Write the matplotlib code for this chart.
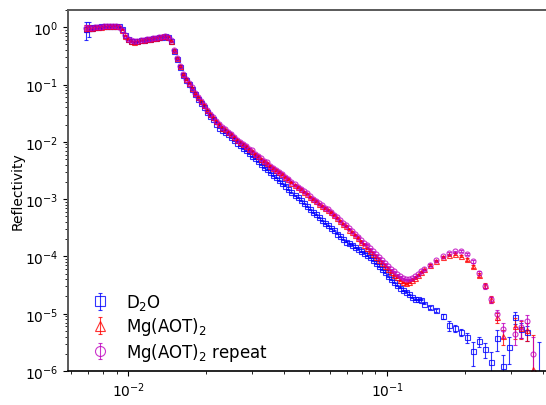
import numpy as np
import matplotlib
matplotlib.use("Agg")
import matplotlib.pyplot as plt

# Q grid shared by the three measurements (1/Angstrom)
q = [0.00686, 0.00705, 0.00724, 0.00744, 0.00764, 0.00785, 0.00807, 0.00829, 0.00851, 0.00874,
     0.00898, 0.00923, 0.00948, 0.00974, 0.01000, 0.01027, 0.01055, 0.01084, 0.01114, 0.01144,
     0.01175, 0.01207, 0.01240, 0.01274, 0.01308, 0.01344, 0.01381, 0.01418, 0.01457, 0.01497,
     0.01537, 0.01579, 0.01622, 0.01666, 0.01712, 0.01759, 0.01806, 0.01856, 0.01906, 0.01958,
     0.02011, 0.02066, 0.02123, 0.02180, 0.02240, 0.02301, 0.02363, 0.02428, 0.02494, 0.02562,
     0.02632, 0.02703, 0.02777, 0.02853, 0.02930, 0.03010, 0.03092, 0.03177, 0.03263, 0.03352,
     0.03443, 0.03537, 0.03633, 0.03732, 0.03834, 0.03939, 0.04046, 0.04156, 0.04269, 0.04386,
     0.04505, 0.04628, 0.04754, 0.04883, 0.05016, 0.05153, 0.05294, 0.05438, 0.05586, 0.05738,
     0.05894, 0.06055, 0.06220, 0.06389, 0.06563, 0.06742, 0.06926, 0.07115, 0.07308, 0.07507,
     0.07712, 0.07922, 0.08138, 0.08360, 0.08587, 0.08821, 0.09061, 0.09308, 0.09562, 0.09822,
     0.1009, 0.1037, 0.1065, 0.1094, 0.1124, 0.1154, 0.1186, 0.1218, 0.1251, 0.1285,
     0.1320, 0.1356, 0.1393,
     0.1470, 0.1551, 0.1637, 0.1727, 0.1823, 0.1923, 0.2029, 0.2141, 0.2260, 0.2385,
     0.2516, 0.2655, 0.2802, 0.2956, 0.3120, 0.3292, 0.3474, 0.3665, 0.3868]

# log10 of reflectivity
logr_d2o = [-0.03, -0.02, -0.01, 0.00, 0.01, 0.02, 0.02, 0.02, 0.03, 0.03,
            0.03, 0.02, -0.03, -0.14, -0.21, -0.24, -0.24, -0.24, -0.23, -0.22,
            -0.21, -0.20, -0.19, -0.18, -0.17, -0.17, -0.16, -0.17, -0.24, -0.42,
            -0.56, -0.70, -0.84, -0.92, -0.99, -1.08, -1.17, -1.26, -1.33, -1.40,
            -1.48, -1.55, -1.61, -1.68, -1.75, -1.80, -1.83, -1.87, -1.92, -1.97,
            -2.02, -2.06, -2.11, -2.15, -2.20, -2.25, -2.29, -2.34, -2.39, -2.44,
            -2.48, -2.53, -2.58, -2.62, -2.67, -2.72, -2.77, -2.83, -2.88, -2.93,
            -2.97, -3.02, -3.07, -3.12, -3.18, -3.23, -3.26, -3.32, -3.37, -3.42,
            -3.46, -3.51, -3.54, -3.60, -3.65, -3.70, -3.74, -3.77, -3.80, -3.84,
            -3.87, -3.91, -3.94, -3.98, -4.01, -4.07, -4.12, -4.17, -4.22, -4.28,
            -4.35, -4.40, -4.45, -4.50, -4.55, -4.59, -4.62, -4.66, -4.71, -4.75,
            -4.75, -4.76, -4.83,
            -4.89, -4.94, -5.04, -5.20, -5.25, -5.32, -5.41, -5.65, -5.48, -5.62,
            -5.85, -5.43, -5.92, -5.58, -5.06, -5.27, -5.32, np.nan, -6.32]

logr_mg = [-0.02, -0.01, -0.01, 0.00, 0.01, 0.01, 0.02, 0.02, 0.02, 0.03,
           0.03, 0.02, -0.04, -0.15, -0.21, -0.24, -0.25, -0.24, -0.23, -0.22,
           -0.21, -0.20, -0.19, -0.18, -0.17, -0.16, -0.16, -0.17, -0.24, -0.40,
           -0.54, -0.68, -0.82, -0.91, -0.98, -1.06, -1.15, -1.22, -1.29, -1.36,
           -1.45, -1.52, -1.57, -1.64, -1.69, -1.75, -1.78, -1.83, -1.87, -1.92,
           -1.97, -2.01, -2.04, -2.08, -2.13, -2.16, -2.22, -2.25, -2.30, -2.34,
           -2.37, -2.43, -2.46, -2.50, -2.53, -2.57, -2.62, -2.65, -2.71, -2.76,
           -2.79, -2.83, -2.88, -2.91, -2.97, -3.00, -3.04, -3.09, -3.12, -3.16,
           -3.19, -3.23, -3.28, -3.33, -3.39, -3.44, -3.47, -3.53, -3.58, -3.63,
           -3.68, -3.75, -3.80, -3.86, -3.91, -3.96, -4.01, -4.07, -4.12, -4.17,
           -4.22, -4.28, -4.33, -4.36, -4.42, -4.45, -4.47, -4.45, -4.42, -4.38,
           -4.33, -4.28, -4.22,
           -4.15, -4.08, -4.01, -3.98, -3.96, -4.00, -4.05, -4.17, -4.33, -4.50,
           -4.75, -5.06, -5.39, np.nan, -5.22, -5.25, -5.29, -5.97, np.nan]

logr_mg_rep = [-0.02, -0.02, -0.01, 0.00, 0.00, 0.01, 0.02, 0.02, 0.03, 0.03,
               0.03, 0.01, -0.04, -0.14, -0.21, -0.23, -0.24, -0.24, -0.23, -0.22,
               -0.21, -0.20, -0.19, -0.18, -0.17, -0.17, -0.16, -0.17, -0.23, -0.40,
               -0.54, -0.67, -0.81, -0.90, -0.98, -1.05, -1.14, -1.21, -1.28, -1.35,
               -1.44, -1.51, -1.57, -1.63, -1.68, -1.74, -1.78, -1.82, -1.86, -1.91,
               -1.96, -2.00, -2.03, -2.07, -2.12, -2.15, -2.21, -2.24, -2.29, -2.33,
               -2.36, -2.42, -2.45, -2.49, -2.52, -2.56, -2.61, -2.64, -2.70, -2.74,
               -2.78, -2.82, -2.86, -2.90, -2.95, -2.99, -3.03, -3.07, -3.11, -3.15,
               -3.18, -3.22, -3.27, -3.32, -3.37, -3.42, -3.46, -3.51, -3.56, -3.61,
               -3.66, -3.72, -3.77, -3.80, -3.86, -3.91, -3.96, -4.01, -4.07, -4.12,
               -4.17, -4.22, -4.26, -4.31, -4.35, -4.38, -4.40, -4.40, -4.38, -4.35,
               -4.31, -4.26, -4.22,
               -4.15, -4.07, -4.00, -3.94, -3.91, -3.91, -3.96, -4.08, -4.29, -4.52,
               -4.75, -5.01, -5.27, np.nan, -5.36, -5.24, -5.13, -5.71, np.nan]

# relative errors: first points, the dense middle, and the sparse high-Q tail
rel_err_low_d2o = [0.35, 0.30, 0.12, 0.08, 0.06, 0.05]
rel_err_low_mg = [0.15, 0.10, 0.06, 0.05, 0.04, 0.04]
rel_err_mid = 0.02
rel_err_tail_d2o = [0.05, 0.06, 0.10, 0.20, 0.15, 0.15, 0.20, 0.45, 0.20, 0.30,
                    0.50, 0.40, 0.60, 0.50, 0.25, 0.30, 0.30, 0.0, 5.6]
rel_err_tail_mg = [0.03, 0.03, 0.03, 0.03, 0.03, 0.04, 0.05, 0.06, 0.08, 0.10,
                   0.15, 0.20, 0.30, 0.0, 0.40, 0.35, 0.35, 3.0, 0.0]
rel_err_tail_rep = [0.03, 0.03, 0.03, 0.03, 0.03, 0.04, 0.05, 0.06, 0.08, 0.10,
                    0.12, 0.20, 0.30, 0.0, 0.35, 0.35, 0.30, 1.05, 0.0]

labels = ["D$_2$O", "Mg(AOT)$_2$", "Mg(AOT)$_2$ repeat"]


def build_err(low, tail, n):
    return np.array(low + [rel_err_mid] * (n - len(low) - len(tail)) + tail)


q = np.array(q)
n = len(q)
series = [
    (np.array(logr_d2o), build_err(rel_err_low_d2o, rel_err_tail_d2o, n), "s", "b"),
    (np.array(logr_mg), build_err(rel_err_low_mg, rel_err_tail_mg, n), "^", "r"),
    (np.array(logr_mg_rep), build_err(rel_err_low_mg, rel_err_tail_rep, n), "o", "m"),
]

fig = plt.figure(figsize=(5.46, 4.06), dpi=100)
ax = fig.add_axes([0.1245, 0.0837, 0.885, 0.8892])

for (logr, rel, marker, color), label in zip(series, labels):
    r = 10.0 ** logr
    dr = r * rel
    ax.errorbar(q, r, yerr=dr, fmt=marker, color=color, mfc="none", ms=3.6, mew=0.8,
                elinewidth=0.8, capsize=1.5, alpha=0.8, label=label)

ax.set_xscale("log")
ax.set_yscale("log")
ax.set_xlim(0.005841, 0.4306)
ax.set_ylim(1e-6, 2.0)
ax.set_xlabel("Q / Å$^{-1}$")
ax.set_ylabel("Reflectivity", labelpad=0)

for side in ["top", "left"]:
    ax.spines[side].set_color("0.35")
    ax.spines[side].set_linewidth(1.4)
ax.spines["bottom"].set_linewidth(1.2)

ax.legend(loc="lower left", bbox_to_anchor=(0.014, 0.0), borderaxespad=0.1,
          frameon=False, fontsize=12, markerscale=2, handletextpad=0.6,
          labelspacing=0.2)

fig.savefig("out.png", dpi=100)
